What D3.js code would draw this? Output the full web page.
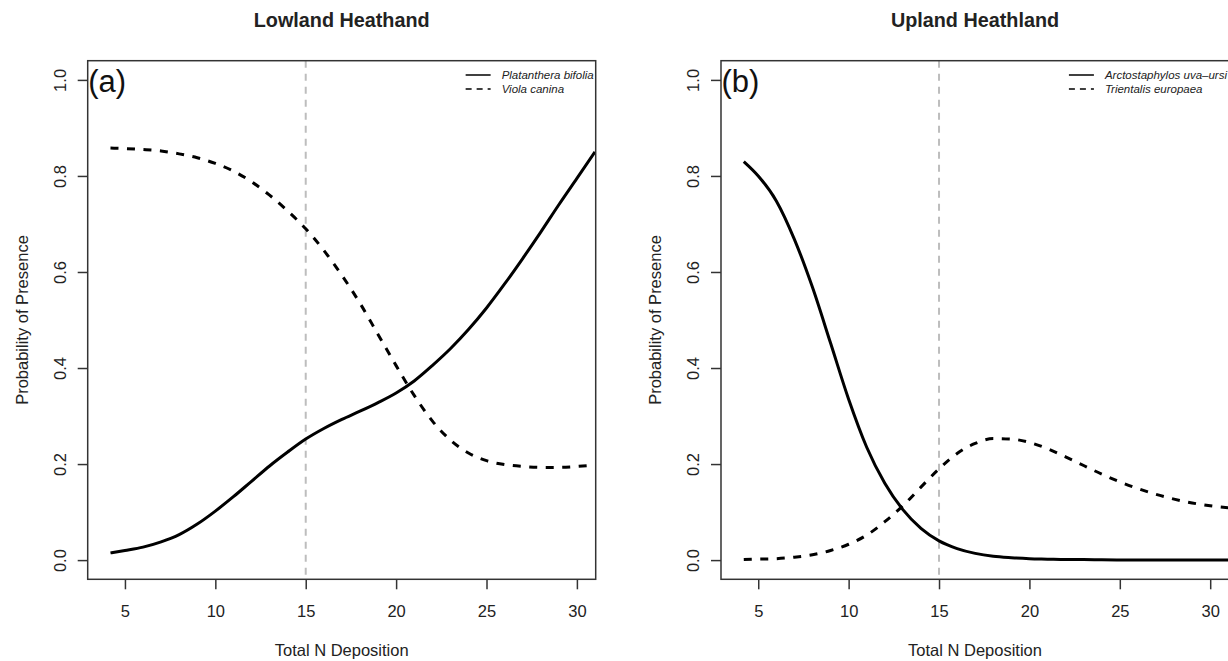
<!DOCTYPE html>
<html>
<head>
<meta charset="utf-8">
<script src="https://cdn.jsdelivr.net/npm/d3@7"></script>
<style>
  html, body { margin: 0; padding: 0; background: #fff; }
  svg { display: block; font-family: "Liberation Sans", Arial, Helvetica, sans-serif; }
</style>
</head>
<body>
<svg id="chart" width="1228" height="661"></svg>
<script>
// ---- data ----
const nDeposition = [4.2, 5, 6, 7, 8, 9, 10, 11, 12, 13, 14, 15, 16, 17, 18, 19, 20, 21, 22, 23, 24, 25, 26, 27, 28, 29, 30, 31];

const platantheraBifolia = [0.015, 0.02, 0.027, 0.038, 0.053, 0.075, 0.102, 0.132, 0.164, 0.196, 0.225, 0.252, 0.274, 0.293, 0.31, 0.328, 0.348, 0.373, 0.405, 0.44, 0.48, 0.525, 0.575, 0.628, 0.683, 0.74, 0.795, 0.85];
const violaCanina = [0.858, 0.857, 0.855, 0.852, 0.846, 0.838, 0.826, 0.81, 0.788, 0.76, 0.727, 0.69, 0.645, 0.593, 0.535, 0.47, 0.405, 0.343, 0.29, 0.25, 0.223, 0.207, 0.199, 0.195, 0.193, 0.193, 0.195, 0.198];

const arctostaphylosUvaUrsi = [0.83, 0.80, 0.748, 0.668, 0.568, 0.452, 0.335, 0.235, 0.16, 0.105, 0.066, 0.04, 0.024, 0.014, 0.008, 0.005, 0.003, 0.002, 0.001, 0.001, 0.0005, 0.0003, 0.0002, 0.0001, 0.0001, 0, 0, 0];
const trientalisEuropaea = [0.001, 0.002, 0.003, 0.006, 0.011, 0.02, 0.033, 0.052, 0.08, 0.113, 0.152, 0.19, 0.222, 0.243, 0.253, 0.252, 0.245, 0.232, 0.215, 0.197, 0.179, 0.163, 0.149, 0.137, 0.127, 0.119, 0.113, 0.109];

const xTicks = [5, 10, 15, 20, 25, 30];
const yTicks = [0.0, 0.2, 0.4, 0.6, 0.8, 1.0];
const thresholdN = 15;

const panels = [
  { title: "Lowland Heathand", tag: "(a)",
    series: [ { name: "Platanthera bifolia", values: platantheraBifolia, dashed: false },
              { name: "Viola canina", values: violaCanina, dashed: true } ] },
  { title: "Upland Heathland", tag: "(b)",
    series: [ { name: "Arctostaphylos uva\u2013ursi", values: arctostaphylosUvaUrsi, dashed: false },
              { name: "Trientalis europaea", values: trientalisEuropaea, dashed: true } ] }
];

// ---- layout ----
const svg = d3.select("#chart");
const panelW = 633.3;
const box = { left: 87.7, right: 595.7, top: 60.7, bottom: 579.3 };
const axisCol = "#333", textCol = "#222";

panels.forEach((p, i) => {
  const g = svg.append("g").attr("transform", `translate(${i * panelW},0)`);
  const x = d3.scaleLinear().domain([2.94, 31.04]).range([box.left, box.right]);
  const y = d3.scaleLinear().domain([-0.04, 1.04]).range([box.bottom, box.top]);

  const clipId = "clip" + i;
  g.append("clipPath").attr("id", clipId).append("rect")
    .attr("x", box.left).attr("y", box.top)
    .attr("width", box.right - box.left).attr("height", box.bottom - box.top);

  // threshold line
  g.append("line")
    .attr("x1", x(thresholdN)).attr("x2", x(thresholdN))
    .attr("y1", box.top).attr("y2", box.bottom)
    .attr("stroke", "#bdbdbd").attr("stroke-width", 2)
    .attr("stroke-dasharray", "7,6");

  // curves
  const line = d3.line().x((d, k) => x(nDeposition[k])).y(d => y(d)).curve(d3.curveMonotoneX);
  p.series.forEach(s => {
    g.append("path")
      .attr("clip-path", `url(#${clipId})`)
      .attr("d", line(s.values))
      .attr("fill", "none").attr("stroke", "#000").attr("stroke-width", 3)
      .attr("stroke-dasharray", s.dashed ? "8,8.5" : null);
  });

  // box
  g.append("rect")
    .attr("x", box.left).attr("y", box.top)
    .attr("width", box.right - box.left).attr("height", box.bottom - box.top)
    .attr("fill", "none").attr("stroke", axisCol).attr("stroke-width", 1.5);

  // x axis
  const xa = g.append("g").attr("transform", `translate(0,${box.bottom})`)
    .call(d3.axisBottom(x).tickValues(xTicks).tickSize(10).tickPadding(0).tickFormat(d3.format("d")));
  xa.select(".domain").remove();
  xa.selectAll("line").attr("stroke", axisCol).attr("stroke-width", 1.5);
  xa.selectAll("text").attr("fill", textCol).attr("font-size", "16.5px")
    .attr("dy", null).attr("y", 38).attr("font-family", "Liberation Sans, Arial, sans-serif");

  // y axis
  const ya = g.append("g").attr("transform", `translate(${box.left},0)`)
    .call(d3.axisLeft(y).tickValues(yTicks).tickSize(10).tickFormat(d3.format(".1f")));
  ya.select(".domain").remove();
  ya.selectAll("line").attr("stroke", axisCol).attr("stroke-width", 1.5);
  ya.selectAll("text")
    .attr("fill", textCol).attr("font-size", "16.5px").attr("font-family", "Liberation Sans, Arial, sans-serif")
    .attr("x", null).attr("dy", null)
    .attr("text-anchor", "middle")
    .attr("transform", "translate(-22,0) rotate(-90)");

  // axis titles
  g.append("text").attr("x", (box.left + box.right) / 2).attr("y", 656)
    .attr("text-anchor", "middle").attr("font-size", "16.5px").attr("fill", textCol)
    .text("Total N Deposition");
  g.append("text")
    .attr("transform", `translate(28,${(box.top + box.bottom) / 2}) rotate(-90)`)
    .attr("text-anchor", "middle").attr("font-size", "16.5px").attr("fill", textCol)
    .text("Probability of Presence");

  // title
  g.append("text").attr("x", (box.left + box.right) / 2).attr("y", 27)
    .attr("text-anchor", "middle").attr("font-size", "19.8px").attr("font-weight", "bold")
    .attr("fill", textCol).text(p.title);

  // panel tag
  g.append("text").attr("x", box.left + 0.5).attr("y", 92)
    .attr("font-size", "31px").attr("fill", "#111").text(p.tag);

  // legend
  const lg = g.append("g");
  const texts = p.series.map((s, k) => lg.append("text")
    .attr("y", 75 + k * 14).attr("dy", "0.35em")
    .attr("font-size", "11.5px").attr("font-style", "italic").attr("fill", textCol)
    .text(s.name));
  const maxW = d3.max(texts, t => t.node().getComputedTextLength());
  const tx = box.right - 2 - maxW;
  texts.forEach(t => t.attr("x", tx));
  p.series.forEach((s, k) => {
    lg.append("line")
      .attr("x1", tx - 36).attr("x2", tx - 11)
      .attr("y1", 75 + k * 14).attr("y2", 75 + k * 14)
      .attr("stroke", "#000").attr("stroke-width", 1.5)
      .attr("stroke-dasharray", s.dashed ? "6,5" : null);
  });
});
</script>
</body>
</html>
